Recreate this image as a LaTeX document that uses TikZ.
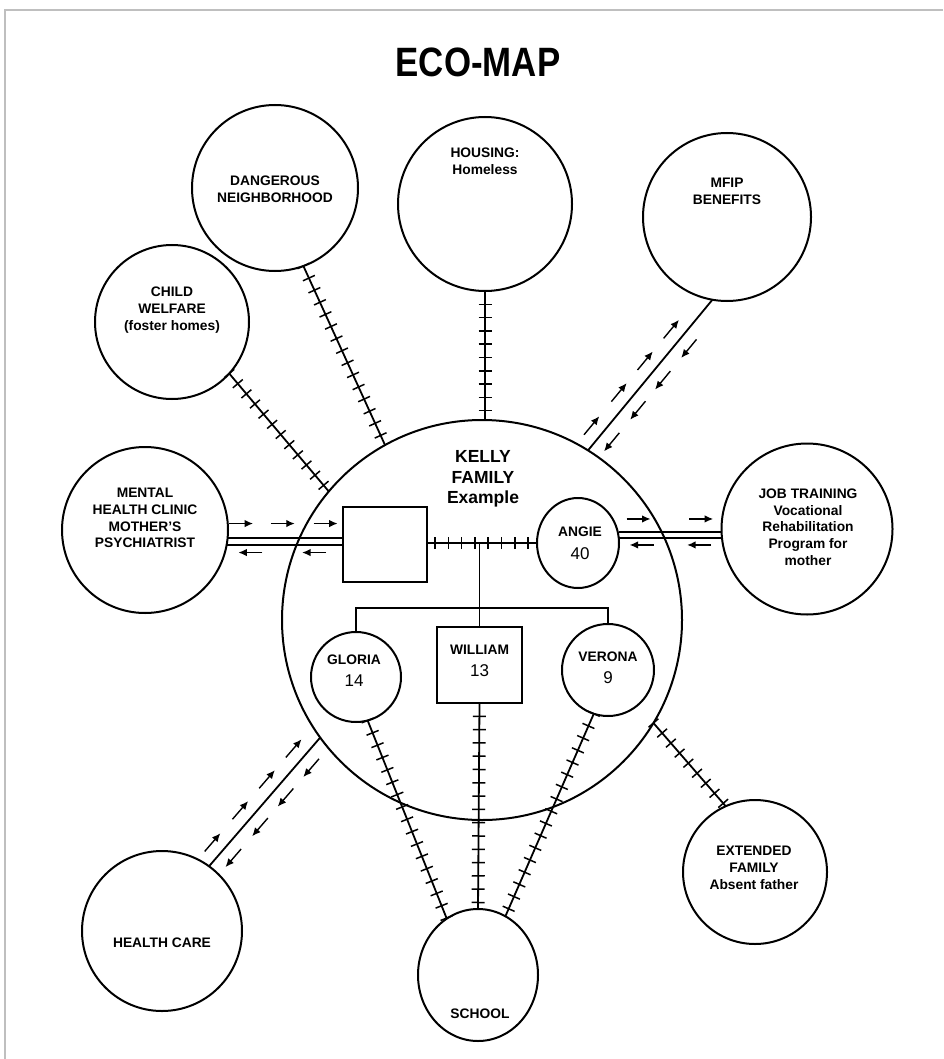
\documentclass[tikz,border=0pt]{standalone}
\usepackage{fontspec}
\setmainfont{Liberation Sans}
\usetikzlibrary{shapes.geometric,arrows.meta,decorations.markings}
\begin{document}
\begin{tikzpicture}[x=1pt,y=-1pt,
  circ/.style={circle,draw,line width=2pt,inner sep=0pt,outer sep=0pt},
  oval/.style={ellipse,draw,line width=2pt,inner sep=0pt,outer sep=0pt},
  box/.style={rectangle,draw,line width=2pt,inner sep=0pt,outer sep=0pt},
  lbl/.style={font=\fontsize{13.8}{16.7}\selectfont\bfseries,align=center,inner sep=0pt},
  nm/.style={font=\fontsize{13.8}{16}\selectfont\bfseries,inner sep=0pt},
  age/.style={font=\fontsize{17}{18}\selectfont,inner sep=0pt},
  rel/.style={line width=1.8pt},
  tickline/.style={line width=1.8pt,postaction={decorate,decoration={markings,
     mark=between positions 0 and 1 step 13.3pt with {\draw[line width=1.5pt] (0pt,-6.5pt) -- (0pt,6.5pt);}}}},
  mtick/.style={postaction={decorate,decoration={markings,
     mark=between positions 8pt and 102pt step 13.3pt with {\draw[line width=1.5pt] (0pt,-6pt) -- (0pt,6pt);}}}},
  flowarr/.style={line width=1.4pt,-{Latex[length=8.5pt,width=7.5pt]}},
  fwd/.style 2 args={postaction={decorate,decoration={markings,
     mark=at position #1 with {\draw[flowarr] (-12pt,#2) -- (12pt,#2);}}}},
  bwd/.style 2 args={postaction={decorate,decoration={markings,
     mark=at position #1 with {\draw[flowarr] (12pt,-#2) -- (-12pt,-#2);}}}},
]
\fill[white] (0,0) rectangle (943,1059);
\useasboundingbox (0,0) rectangle (943,1059);
\draw[black!25, line width=1.5pt] (5,1059) -- (5,10) -- (943,10);

% title
\node[font=\fontsize{41}{41}\selectfont\bfseries] (title) at (478,62) {\scalebox{0.85}[1]{ECO-MAP}};

% systems
\node[circ,minimum size=400pt] (big) at (482,620) {};
\node[circ,minimum size=174pt] (housing) at (485,204) {};
\node[circ,minimum size=166pt] (dang) at (275,188) {};
\node[circ,minimum size=168pt] (mfip) at (727,217) {};
\node[circ,minimum size=154pt] (child) at (172,322) {};
\node[circ,minimum size=166pt] (mental) at (145,530) {};
\node[circ,minimum size=171pt] (jt) at (807,529) {};
\node[circ,minimum size=160pt] (health) at (162,931) {};
\node[oval,minimum width=120pt,minimum height=132pt] (school) at (478,975) {};
\node[circ,minimum size=144pt] (ext) at (755,872) {};

% family members
\node[box,minimum width=84pt,minimum height=75pt] (father) at (385,544) {};
\node[oval,minimum width=82pt,minimum height=90pt] (angie) at (578,543) {};
\node[circ,minimum size=90pt] (gloria) at (356,677) {};
\node[box,minimum width=85pt,minimum height=76pt] (william) at (479.5,665) {};
\node[circ,minimum size=92pt] (verona) at (608,670) {};

% labels
\node[lbl] (housingT) at (485,161) {HOUSING:\\Homeless};
\node[lbl] (dangT) at (275,189) {DANGEROUS\\NEIGHBORHOOD};
\node[lbl] (mfipT) at (727,191) {MFIP\\BENEFITS};
\node[lbl] (childT) at (172,310) {CHILD\\WELFARE\\(foster homes)};
\node[lbl] (mentalT) at (145,518) {MENTAL\\HEALTH CLINIC\\MOTHER'S\\PSYCHIATRIST};
\node[lbl] (jtT) at (808,527) {JOB TRAINING\\Vocational\\Rehabilitation\\Program for\\mother};
\node[lbl] (healthT) at (162,943) {HEALTH CARE};
\node[lbl] (schoolT) at (480,1014) {SCHOOL};
\node[lbl] (extT) at (754,868) {EXTENDED\\FAMILY\\Absent father};
\node[lbl,font=\fontsize{17.5}{20.5}\selectfont\bfseries] (kellyT) at (483,479) {KELLY\\FAMILY\\Example};
\node[nm] (angieN) at (580,532) {ANGIE};
\node[age] (angieA) at (580,554) {40};
\node[nm] (gloriaN) at (354,660) {GLORIA};
\node[age] (gloriaA) at (354,681) {14};
\node[nm] (williamN) at (479.5,650) {WILLIAM};
\node[age] (williamA) at (479.5,671) {13};
\node[nm] (veronaN) at (608,657) {VERONA};
\node[age] (veronaA) at (608,678) {9};

% stressful relationships
\draw[tickline] (housing.south) -- (housing.south |- big.north);
\draw[tickline] (dang.290) -- (big.119);
\draw[tickline] (child.318) -- (big.140);
\draw[tickline] (big.329) -- (ext.114);
\draw[tickline] (gloria.285) -- (school.119);
\draw[tickline] (william.south) -- (school.north);
\draw[tickline] (verona.252) -- (school.65);

% flow of energy
\draw[rel, fwd={0.11}{13pt}, fwd={0.33}{13pt}, fwd={0.54}{13pt}, fwd={0.75}{13pt},
           bwd={0.11}{13pt}, bwd={0.32}{13pt}, bwd={0.52}{13pt}, bwd={0.73}{13pt}]
  (big.58) -- (mfip.260);
\draw[rel, fwd={0.12}{13pt}, fwd={0.37}{13pt}, fwd={0.61}{13pt}, fwd={0.85}{13pt},
           bwd={0.13}{13pt}, bwd={0.37}{13pt}, bwd={0.6}{13pt}, bwd={0.83}{13pt}]
  (health.54) -- (big.216);

\coordinate (mA) at (mental.352);
\coordinate (mB) at (mental.352 -| father.west);
\draw[rel] ([yshift=3.5pt]mA) -- ([yshift=3.5pt]mB);
\draw[rel] ([yshift=-3.5pt]mA) -- ([yshift=-3.5pt]mB);
\path[fwd={0.12}{18pt}, fwd={0.48}{18pt}, fwd={0.85}{18pt},
      bwd={0.2}{11pt}, bwd={0.75}{11pt}] (mA) -- (mB);

\coordinate (jA) at (jt.184 -| angie.east);
\coordinate (jB) at (jt.184);
\draw[rel] ([yshift=3pt]jA) -- ([yshift=3pt]jB);
\draw[rel] ([yshift=-3pt]jA) -- ([yshift=-3pt]jB);
\path[fwd={0.19}{16pt}, fwd={0.8}{16pt},
      bwd={0.22}{10pt}, bwd={0.78}{10pt}] (jA) -- (jB);

% family structure
\draw[rel, mtick] (father.east |- angie.west) -- (angie.west);
\coordinate (sib) at (480,608);
\draw[rel] (william.north |- angie.west) -- (william.north);
\draw[rel] (gloria.north) -- (gloria.north |- sib) -- (verona.north |- sib) -- (verona.north);
\end{tikzpicture}
\end{document}
